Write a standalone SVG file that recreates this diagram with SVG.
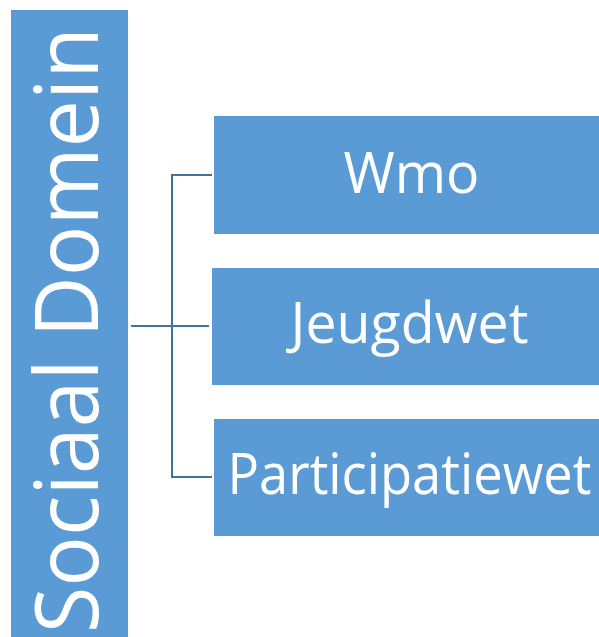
<svg xmlns="http://www.w3.org/2000/svg" width="599" height="637" viewBox="0 0 599 637">
<style>
.box{fill:#5B9BD5;}
.lbl{fill:#FFFFFF;font-family:"Open Sans","Noto Sans",sans-serif;font-size:56px;text-anchor:middle;}
.conn{stroke:#41719C;stroke-width:2;fill:none;}
</style>
<rect width="599" height="637" fill="#FFFFFF"/>
<g id="connectors">
<path class="conn" d="M131,326 H209"/>
<path class="conn" d="M212,175 H172 V477 H212"/>
</g>
<g id="sociaal-domein">
<rect class="box" x="11" y="10" width="117" height="627"/>
<text transform="translate(98,633) rotate(-90)" x="0" y="0" fill="#FFFFFF" font-family="'Open Sans','Noto Sans',sans-serif" font-size="88" textLength="606" lengthAdjust="spacingAndGlyphs">Sociaal Domein</text>
</g>
<g id="wmo">
<rect class="box" x="214" y="116" width="385" height="118"/>
<text class="lbl" x="411.5" y="193" textLength="136" lengthAdjust="spacingAndGlyphs">Wmo</text>
</g>
<g id="jeugdwet">
<rect class="box" x="212" y="268" width="387" height="117"/>
<text class="lbl" x="409.5" y="343" textLength="238" lengthAdjust="spacingAndGlyphs">Jeugdwet</text>
</g>
<g id="participatiewet">
<rect class="box" x="214" y="419" width="385" height="117"/>
<text class="lbl" x="409.5" y="494" textLength="364" lengthAdjust="spacingAndGlyphs">Participatiewet</text>
</g>
</svg>
